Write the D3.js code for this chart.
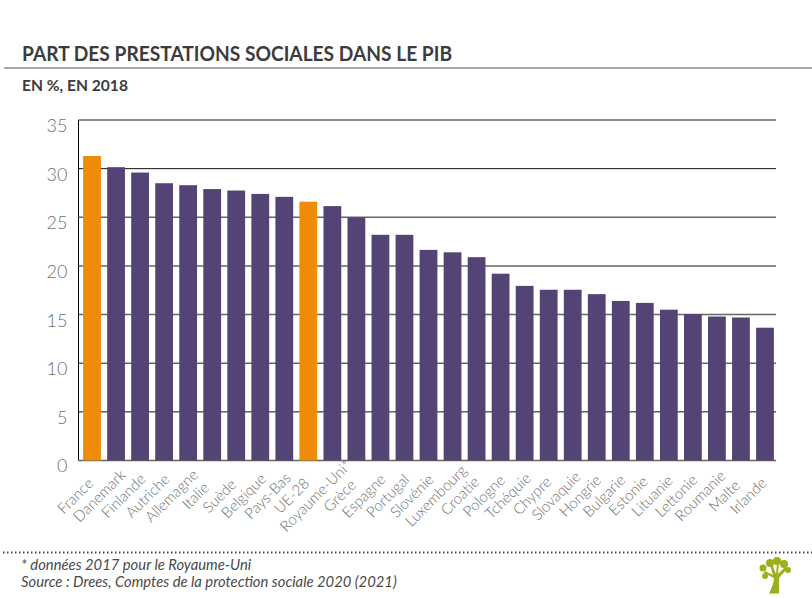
<!DOCTYPE html>
<html>
<head>
<meta charset="utf-8">
<script src="https://cdn.jsdelivr.net/npm/d3@7"></script>
<style>
  html, body { margin: 0; background: #fff; }
  svg { display: block; font-family: Lato, "Open Sans", sans-serif; }
  .tick text { fill: #707070; font-family: Lato, sans-serif; font-weight: 300; }
</style>
</head>
<body>
<div id="chart"></div>
<script>
// Part des prestations sociales dans le PIB
const countries = ['France', 'Danemark', 'Finlande', 'Autriche', 'Allemagne', 'Italie', 'Suède', 'Belgique',
  'Pays-Bas', 'UE-28', 'Royaume-Uni*', 'Grèce', 'Espagne', 'Portugal', 'Slovénie', 'Luxembourg', 'Croatie',
  'Pologne', 'Tchéquie', 'Chypre', 'Slovaquie', 'Hongrie', 'Bulgarie', 'Estonie', 'Lituanie', 'Lettonie',
  'Roumanie', 'Malte', 'Irlande'];
const shares = [31.3, 30.15, 29.6, 28.5, 28.3, 27.9, 27.75, 27.4, 27.1, 26.6, 26.15, 25, 23.2, 23.2, 21.65,
  21.4, 20.9, 19.2, 17.95, 17.55, 17.55, 17.1, 16.4, 16.2, 15.5, 15.05, 14.8, 14.7, 13.65];
const highlighted = ['France', 'UE-28'];
const yTicks = [0, 5, 10, 15, 20, 25, 30, 35];

const width = 812, height = 598;
const svg = d3.select('#chart').append('svg').attr('width', width).attr('height', height);

const x = d3.scaleBand().domain(countries).range([80, 777]).paddingInner(0.26).paddingOuter(0.13);
const y = d3.scaleLinear().domain([0, 35]).range([460.5, 120]);

// header
svg.append('text').attr('x', 22).attr('y', 61)
  .attr('font-size', 21).attr('font-weight', 700).attr('fill', '#3c3c3c')
  .attr('textLength', 430).attr('lengthAdjust', 'spacingAndGlyphs')
  .text('PART DES PRESTATIONS SOCIALES DANS LE PIB');
svg.append('line').attr('x1', 4).attr('x2', width).attr('y1', 68).attr('y2', 68)
  .attr('stroke', '#555').attr('stroke-width', 1);
svg.append('text').attr('x', 22).attr('y', 91)
  .attr('font-size', 15.6).attr('font-weight', 700).attr('fill', '#3c3c3c')
  .text('EN %, EN 2018');

// grid + y axis (30 and 5 come out crisp black in the reference, the rest greyer)
const gy = svg.append('g').attr('transform', 'translate(78.5,0)')
  .call(d3.axisLeft(y).tickValues(yTicks).tickSize(-697.5).tickPadding(11).offset(0));
gy.select('.domain').attr('stroke', '#000').attr('d', `M0,${y(35)}V${y(0)}`);
gy.selectAll('.tick text').attr('font-size', 18).attr('dy', '0.72em').attr('y', -1);
gy.selectAll('.tick line')
  .attr('stroke', d => (d === 5 || d === 30) ? '#111' : '#666')
  .attr('stroke-width', d => (d === 5 || d === 30) ? 1 : 1.4);

// bars
svg.append('g').selectAll('rect')
  .data(countries)
  .join('rect')
  .attr('x', d => x(d))
  .attr('y', (d, i) => y(shares[i]))
  .attr('width', x.bandwidth())
  .attr('height', (d, i) => y(0) - y(shares[i]))
  .attr('fill', d => highlighted.includes(d) ? '#ee8c0a' : '#544476');

// x axis, labels centred on a point left of each bar
const gx = svg.append('g').attr('transform', 'translate(0,460.5)')
  .call(d3.axisBottom(x).tickSize(0));
gx.select('.domain').remove();
gx.selectAll('.tick text')
  .attr('font-size', 15)
  .attr('text-anchor', 'middle')
  .attr('x', 0).attr('y', 0).attr('dy', 0)
  .attr('transform', 'translate(-13,39) rotate(-45)');

// footer
svg.append('line').attr('x1', 3).attr('x2', width).attr('y1', 552.5).attr('y2', 552.5)
  .attr('stroke', '#444').attr('stroke-width', 2).attr('stroke-dasharray', '1.5 2.5');
const notes = ['* données 2017 pour le Royaume-Uni', 'Source : Drees, Comptes de la protection sociale 2020 (2021)'];
svg.append('g').selectAll('text').data(notes).join('text')
  .attr('x', 21).attr('y', (d, i) => 570 + i * 16.5)
  .attr('font-size', 14.8).attr('font-style', 'italic').attr('fill', '#4a4a4a')
  .text(d => d);

// tree logo
const logo = svg.append('g').attr('transform', 'translate(775,576)').attr('fill', '#9bb01a');
logo.append('path').attr('d', 'M-6,17.5 C-3,11 -1,6 -1,2 L-11,-3 L-10,-5 L-2,-1 L-5,-11 L-3,-12 L1,-2 L2,-13 L4,-13 L3,-2 L10,-9 L12,-7 L4,2 C4,8 4,13 4,17.5 Z');
[[-12, -8, 3.5], [-10, 0, 3], [-5, -13, 4], [2, -15, 4], [9, -12, 4], [13, -6, 3]]
  .forEach(c => logo.append('circle').attr('cx', c[0]).attr('cy', c[1]).attr('r', c[2]));
</script>
</body>
</html>
